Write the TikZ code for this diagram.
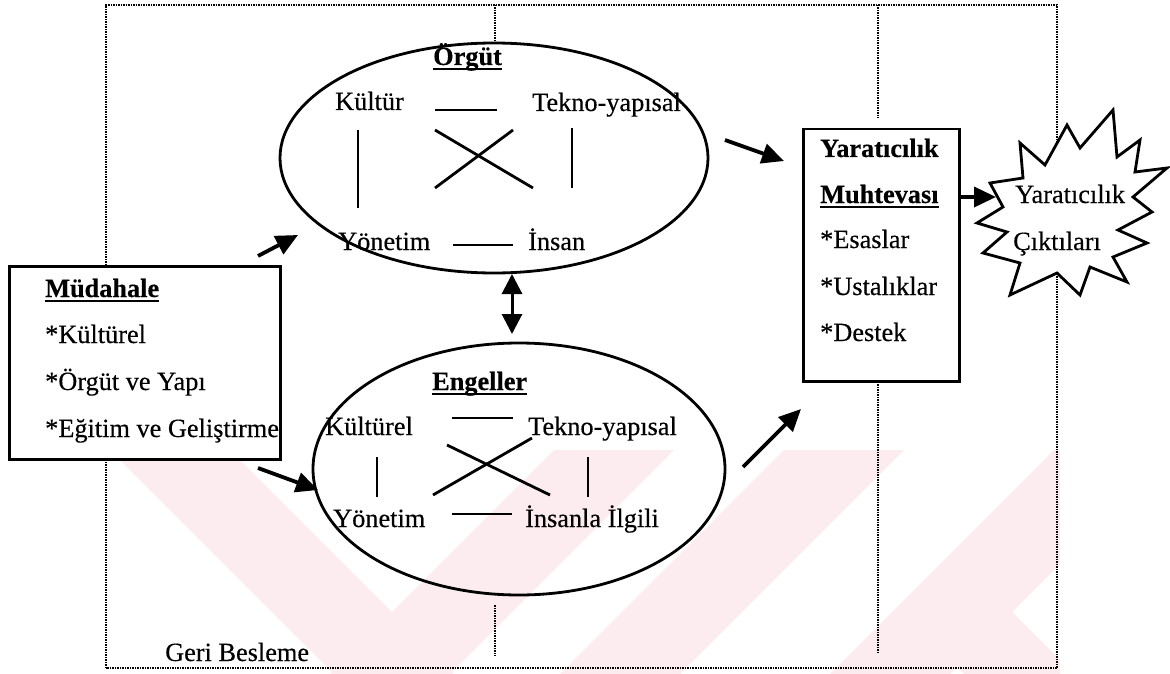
\documentclass[tikz,border=0pt]{standalone}
\usepackage{fontspec}
\setmainfont{Liberation Serif}[UprightFeatures={FakeBold=0.35},BoldFeatures={FakeBold=0.35}]
\usetikzlibrary{shapes.geometric,arrows.meta}
\definecolor{wmpink}{RGB}{253,236,239}
% underlined heading with a heavy rule
\newcommand\ulined[1]{\setbox0\hbox{#1}\rlap{\raisebox{-5pt}{\rule{\wd0}{2.2pt}}}\box0}
\begin{document}
\begin{tikzpicture}[x=1pt,y=-1pt,
  txt/.style={inner sep=0pt, anchor=base west, font=\fontsize{26.3}{30}\selectfont},
  hd/.style={txt, font=\fontsize{26.3}{30}\selectfont\bfseries},
  frame/.style={line width=2.2pt, dash pattern=on 1.5pt off 1pt},
  oval/.style={ellipse, draw, line width=2.8pt, inner sep=0pt},
  boxed/.style={draw, line width=2.5pt, fill=white, inner sep=0pt, anchor=north west},
  link/.style={line width=2.8pt},
  flow/.style={line width=3.8pt, -{Triangle[length=22pt,width=20pt]}},
  both/.style={line width=3pt, {Triangle[length=20pt,width=20pt]}-{Triangle[length=20pt,width=20pt]}},
]
\useasboundingbox (0,0) rectangle (1170,674);

% faint watermark bands
\begin{scope}[wmpink]
  \fill (110,450) -- (230,450) -- (454,674) -- (334,674) -- cycle;
  \fill (330,674) -- (450,674) -- (674,450) -- (554,450) -- cycle;
  \fill (560,674) -- (680,674) -- (904,450) -- (784,450) -- cycle;
  \fill (830,674) -- (950,674) -- (1060,564) -- (1060,450) -- (1054,450) -- cycle;
  \fill (900,610) -- (960,560) -- (1060,660) -- (1060,674) -- (964,674) -- cycle;
\end{scope}

% feedback frame
\coordinate (ftl) at (106,5);
\coordinate (ftr) at (1057,5);
\coordinate (fbl) at (106,668);
\coordinate (fbr) at (1057,668);
\draw[frame] (fbl) -- (ftl) -- (ftr) -- (fbr) -- (fbl);

% organisation ellipse
\node[oval, minimum width=428pt, minimum height=230pt] (org) at (494,158) {};
% barriers ellipse
\node[oval, minimum width=412pt, minimum height=252pt] (eng) at (519,469) {};

% dotted feedback ties
\coordinate (t1a) at (495,5);
\coordinate (t1b) at (495,43);
\draw[frame] (t1a) -- (t1b);
\coordinate (t2a) at (495,605);
\coordinate (t2b) at (495,656);
\draw[frame] (t2a) -- (t2b);

% intervention box
\node[boxed, minimum width=271pt, minimum height=193pt] (mud) at (8,265) {};
\node[hd] (mudh) at (45,297) {\ulined{Müdahale}};
\node[txt] (mud1) at (45,343) {*Kültürel};
\node[txt] (mud2) at (45,390) {*Örgüt ve Yapı};
\node[txt] (mud3) at (45,437) {*Eğitim ve Geliştirme};

% creativity content box
\node[boxed, minimum width=156pt, minimum height=252pt] (yar) at (802,128) {};
\coordinate (t3a) at (878,5);
\coordinate (t3b) at (878,118);
\draw[frame] (t3a) -- (t3b);
\coordinate (t4a) at (878,384);
\coordinate (t4b) at (878,654);
\draw[frame] (t4a) -- (t4b);
\node[hd] (yar1) at (820,157) {Yaratıcılık};
\node[hd] (yar2) at (820,203) {\ulined{Muhtevası}};
\node[txt] (yar3) at (820,248) {*Esaslar};
\node[txt] (yar4) at (820,295) {*Ustalıklar};
\node[txt] (yar5) at (820,341) {*Destek};

% creativity outputs burst
\draw[line width=2.8pt, fill=white, line join=miter, miter limit=20]
  (990,183) -- (1023,178) -- (1020,143) -- (1045,165) -- (1067,125) -- (1080,148)
  -- (1113,110) -- (1117,157) -- (1140,140) -- (1135,172) -- (1167,168)
  -- (1133,197) -- (1152,212) -- (1118,230) -- (1147,243) -- (1113,257)
  -- (1127,282) -- (1090,267) -- (1080,295) -- (1057,273) -- (1010,295)
  -- (1020,263) -- (983,253) -- (1007,232) -- (977,223) -- (1003,207) -- cycle;
\node[txt] (cik1) at (1015,203) {Yaratıcılık};
\node[txt] (cik2) at (1013,250) {Çıktıları};

% organisation contents
\node[hd] (orgh) at (433,65) {\ulined{Örgüt}};
\node[txt] (o-kul) at (335,110) {Kültür};
\node[txt] (o-tek) at (532,111) {Tekno-yapısal};
\node[txt] (o-yon) at (338,250) {Yönetim};
\node[txt] (o-ins) at (528,250) {İnsan};
\coordinate (oa1) at (435,110); \coordinate (oa2) at (497,110);
\coordinate (ob1) at (435,130); \coordinate (ob2) at (533,188);
\coordinate (oc1) at (513,130); \coordinate (oc2) at (435,188);
\coordinate (od1) at (358,130); \coordinate (od2) at (358,208);
\coordinate (oe1) at (572,128); \coordinate (oe2) at (572,188);
\coordinate (of1) at (453,245); \coordinate (of2) at (513,245);
\draw[link] (oa1) -- (oa2);
\draw[link] (ob1) -- (ob2);
\draw[link] (oc1) -- (oc2);
\draw[link] (od1) -- (od2);
\draw[link] (oe1) -- (oe2);
\draw[link] (of1) -- (of2);

% barrier contents
\node[hd] (engh) at (432,390) {\ulined{Engeller}};
\node[txt] (e-kul) at (325,435) {Kültürel};
\node[txt] (e-tek) at (528,435) {Tekno-yapısal};
\node[txt] (e-yon) at (333,527) {Yönetim};
\node[txt] (e-ins) at (525,527) {İnsanla İlgili};
\coordinate (ea1) at (452,418); \coordinate (ea2) at (513,418);
\coordinate (eb1) at (447,445); \coordinate (eb2) at (550,495);
\coordinate (ec1) at (532,438); \coordinate (ec2) at (433,495);
\coordinate (ed1) at (377,457); \coordinate (ed2) at (377,497);
\coordinate (ee1) at (588,457); \coordinate (ee2) at (588,497);
\coordinate (ef1) at (452,514); \coordinate (ef2) at (512,514);
\draw[link] (ea1) -- (ea2);
\draw[link] (eb1) -- (eb2);
\draw[link] (ec1) -- (ec2);
\draw[link] (ed1) -- (ed2);
\draw[link] (ee1) -- (ee2);
\draw[link] (ef1) -- (ef2);

% flows
\coordinate (m1) at (258,256); \coordinate (m1t) at (298,235);
\coordinate (m2) at (258,468); \coordinate (m2t) at (318,490);
\coordinate (o1) at (725,140); \coordinate (o1t) at (784,161);
\coordinate (e1) at (743,467); \coordinate (e1t) at (801,409);
\coordinate (y1) at (958,197); \coordinate (y1t) at (996,197);
\coordinate (d1) at (512,274); \coordinate (d2) at (512,334);
\draw[flow] (m1) -- (m1t);
\draw[flow] (m2) -- (m2t);
\draw[flow] (o1) -- (o1t);
\draw[flow] (e1) -- (e1t);
\draw[flow] (y1) -- (y1t);
\draw[both] (d1) -- (d2);

\node[txt] (geri) at (165,661) {Geri Besleme};
\end{tikzpicture}
\end{document}
